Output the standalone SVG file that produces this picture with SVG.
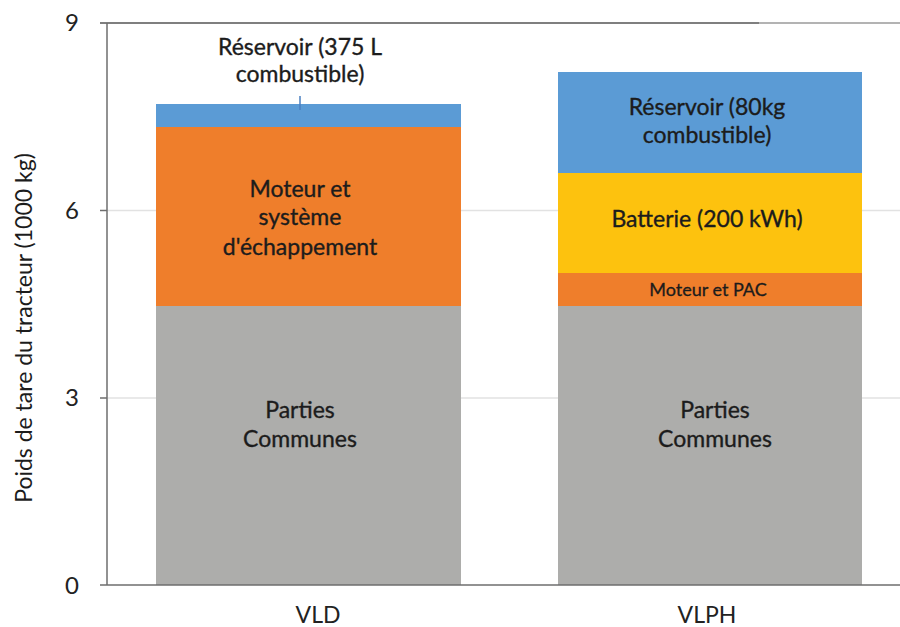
<svg xmlns="http://www.w3.org/2000/svg" width="900" height="627" viewBox="0 0 900 627">
  <style>
    text { font-family: Lato, "Open Sans", "Liberation Sans", sans-serif; fill: #1c1c1c; }
    .lbl { font-size: 23px; text-anchor: middle; stroke: #1c1c1c; stroke-width: 0.35; }
    .small { font-size: 18px; text-anchor: middle; stroke: #1c1c1c; stroke-width: 0.3; }
    .tick { font-size: 24px; text-anchor: middle; fill: #222; }
    .cat { font-size: 23px; text-anchor: middle; fill: #222; }
    .grid { stroke: #e2e2e2; stroke-width: 1.5; }
    .axis { stroke: #6e6e6e; stroke-width: 1.5; }
  </style>
  <rect width="900" height="627" fill="#ffffff"/>

  <!-- gridlines -->
  <g id="grid">
    <line class="grid" x1="107" y1="210.5" x2="900" y2="210.5"/>
    <line class="grid" x1="107" y1="398" x2="900" y2="398"/>
    <line x1="100" y1="23" x2="759" y2="23" stroke="#555" stroke-width="1.5"/>
    <line x1="759" y1="23" x2="900" y2="23" stroke="#9a9a9a" stroke-width="1.5"/>
  </g>

  <!-- bar VLD -->
  <g id="bar-vld">
    <rect x="156" y="306" width="305" height="279" fill="#adadab"/>
    <rect x="156" y="127" width="305" height="179" fill="#ef7e2b"/>
    <rect x="156" y="104" width="305" height="23" fill="#5b9bd5"/>
    <line x1="300" y1="96" x2="300" y2="110" stroke="#4a7fc0" stroke-width="1.5"/>
    <text class="lbl" x="300" y="55">Réservoir (375 L</text>
    <text class="lbl" x="300" y="82">combustible)</text>
    <text class="lbl" x="300" y="197">Moteur et</text>
    <text class="lbl" x="300" y="225">système</text>
    <text class="lbl" x="300" y="255">d'échappement</text>
    <text class="lbl" x="300" y="418">Parties</text>
    <text class="lbl" x="300" y="447">Communes</text>
  </g>

  <!-- bar VLPH -->
  <g id="bar-vlph">
    <rect x="558" y="306" width="304" height="279" fill="#adadab"/>
    <rect x="558" y="273" width="304" height="33" fill="#ef7e2b"/>
    <rect x="558" y="173" width="304" height="100" fill="#fdc20e"/>
    <rect x="558" y="72" width="304" height="101" fill="#5b9bd5"/>
    <text class="lbl" x="707" y="115">Réservoir (80kg</text>
    <text class="lbl" x="707" y="143">combustible)</text>
    <text class="lbl" x="707" y="227">Batterie (200 kWh)</text>
    <text class="small" x="708" y="296">Moteur et PAC</text>
    <text class="lbl" x="715" y="418">Parties</text>
    <text class="lbl" x="715" y="447">Communes</text>
  </g>

  <!-- axes -->
  <g id="axes">
    <line class="axis" x1="107" y1="23" x2="107" y2="585"/>
    <line class="axis" x1="100" y1="585" x2="900" y2="585"/>
    <line class="axis" x1="100" y1="210.5" x2="107" y2="210.5"/>
    <line class="axis" x1="100" y1="398" x2="107" y2="398"/>
    <text class="tick" x="72" y="31">9</text>
    <text class="tick" x="72" y="219">6</text>
    <text class="tick" x="72" y="406">3</text>
    <text class="tick" x="72" y="594">0</text>
    <text class="cat" x="318" y="623">VLD</text>
    <text class="cat" x="707" y="623">VLPH</text>
    <text x="23" y="328" transform="rotate(-90 23 328)" font-size="23" text-anchor="middle" dominant-baseline="central" fill="#222">Poids de tare du tracteur (1000 kg)</text>
  </g>
</svg>
